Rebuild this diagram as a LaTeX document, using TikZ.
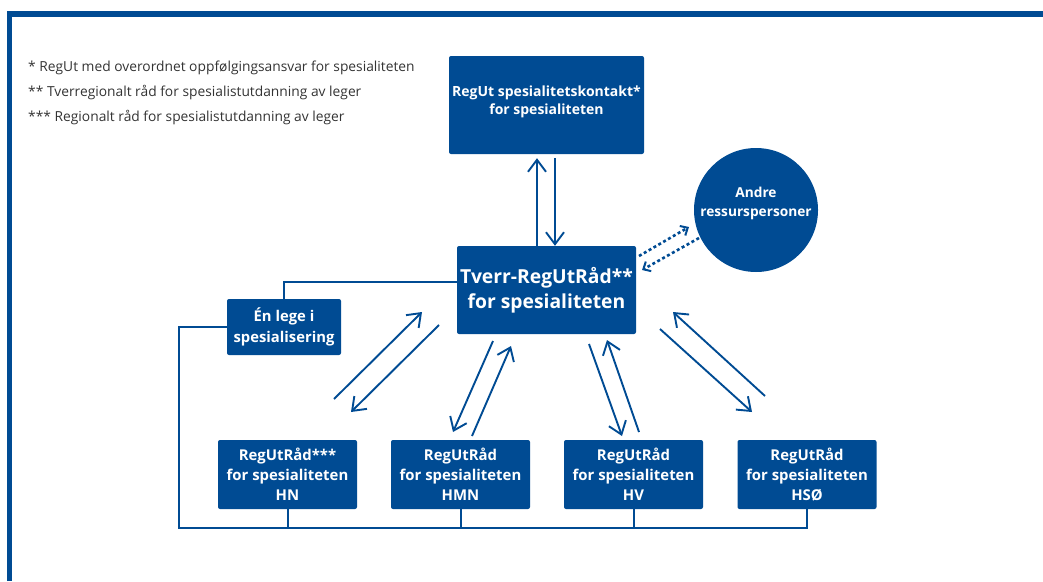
\documentclass[tikz,border=0pt]{standalone}
\usepackage{fontspec}
\setmainfont{Open Sans}
\usetikzlibrary{arrows.meta}
\definecolor{hblue}{RGB}{0,75,147}
\begin{document}
\begin{tikzpicture}[x=1pt,y=-1pt,
  box/.style={fill=hblue, text=white, rounded corners=2pt, align=center, inner sep=0pt, font=\bfseries},
  conn/.style={draw=hblue, line width=2pt},
  arr/.style={draw=hblue, line width=1.9pt, -{Straight Barb[length=12pt,width=18pt]}},
  darr/.style={draw=hblue, line width=2.6pt, dash pattern=on 3pt off 2.6pt, -{Straight Barb[length=6pt,width=11pt,line width=2pt]}},
  note/.style={anchor=base west, inner sep=0pt, text=black!80, font=\fontsize{13.8}{16}\selectfont}
]
\useasboundingbox (0,0) rectangle (1043,581);
% frame
\draw[hblue, line width=5.5pt] (9.5,581) -- (9.5,14) -- (1043,14);

% notes
\node[note] (n1) at (28,71) {* RegUt med overordnet oppfølgingsansvar for spesialiteten};
\node[note] (n2) at (28,96) {** Tverregionalt råd for spesialistutdanning av leger};
\node[note] (n3) at (28,121) {*** Regionalt råd for spesialistutdanning av leger};

% boxes
\node[box, minimum width=195pt, minimum height=98pt,
  label={[text=white, font=\bfseries\fontsize{14}{18}\selectfont, align=center, yshift=3pt]center:RegUt spesialitetskontakt*\\for spesialiteten}]
  (top) at (546.5,105) {};
\node[box, minimum width=179pt, minimum height=88pt, font=\bfseries\fontsize{19.3}{25}\selectfont]
  (tverr) at (546.5,290) {Tverr-RegUtRåd**\\for spesialiteten};
\node[box, minimum width=114pt, minimum height=56pt, font=\bfseries\fontsize{14.8}{21}\selectfont]
  (lege) at (284,327) {Én lege i\\spesialisering};
\node[circle, fill=hblue, minimum size=124pt, inner sep=0pt,
  label={[text=white, font=\bfseries\fontsize{13.7}{19}\selectfont, align=center, yshift=7pt]center:Andre\\ressurspersoner}]
  (andre) at (756,210) {};

\tikzset{bot/.style={box, minimum width=139pt, minimum height=69pt, font=\bfseries\fontsize{14.9}{20}\selectfont}}
\node[bot] (hn)  at (287.5,474.5) {RegUtRåd***\\for spesialiteten\\HN};
\node[bot] (hmn) at (460.5,474.5) {RegUtRåd\\for spesialiteten\\HMN};
\node[bot] (hv)  at (633.5,474.5) {RegUtRåd\\for spesialiteten\\HV};
\node[bot] (hso) at (807,474.5) {RegUtRåd\\for spesialiteten\\HSØ};

% connectors
\draw[conn] ([yshift=8pt]tverr.west) -| (lege.north);
\coordinate (bl) at (179,528);
\draw[conn] (lege.west) -- (lege.west -| bl) -- (bl) -| (hso.south);
\draw[conn] (hn.south) -- (hn.south |- bl);
\draw[conn] (hmn.south) -- (hmn.south |- bl);
\draw[conn] (hv.south) -- (hv.south |- bl);

% top <-> tverr
\draw[arr] ([xshift=-9.5pt]tverr.north) -- ([xshift=-9.5pt,yshift=-4pt]top.south);
\draw[arr] ([xshift=8.5pt,yshift=-4pt]top.south) -- ([xshift=8.5pt]tverr.north);

% dotted to andre
\coordinate (d1s) at (639,256); \coordinate (d1e) at (689,227);
\coordinate (d2s) at (699,238); \coordinate (d2e) at (642,270);
\draw[darr] (d1s) -- (d1e);
\draw[darr] (d2s) -- (d2e);

% HN
\coordinate (a1s) at (334,399); \coordinate (a1e) at (422,312);
\coordinate (a2s) at (439,325); \coordinate (a2e) at (351,412);
\draw[arr] (a1s) -- (a1e);
\draw[arr] (a2s) -- (a2e);
% HMN
\coordinate (b1s) at (493,341); \coordinate (b1e) at (453,432);
\coordinate (b2s) at (472,436); \coordinate (b2e) at (511,346);
\draw[arr] (b1s) -- (b1e);
\draw[arr] (b2s) -- (b2e);
% HV
\coordinate (c1s) at (589,344); \coordinate (c1e) at (622,436);
\coordinate (c2s) at (639,432); \coordinate (c2e) at (607,340);
\draw[arr] (c1s) -- (c1e);
\draw[arr] (c2s) -- (c2e);
% HSO
\coordinate (e1s) at (765,396); \coordinate (e1e) at (673,312);
\coordinate (e2s) at (660,329); \coordinate (e2e) at (752,412);
\draw[arr] (e1s) -- (e1e);
\draw[arr] (e2s) -- (e2e);
\end{tikzpicture}
\end{document}
